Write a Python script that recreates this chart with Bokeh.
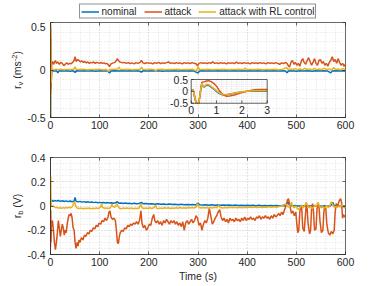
import numpy as np
from bokeh.plotting import figure
from bokeh.models import (Range1d, FixedTicker, LinearAxis, Legend, LegendItem, CustomJSTickFormatter, Spacer, Div)
from bokeh.layouts import column, row
from bokeh.embed import file_html
from bokeh.resources import INLINE

# ---------------- data ----------------
legend_labels = ["nominal", "attack", "attack with RL control"]
ylabel_top_html = "r<sub>v</sub> (ms<sup>-2</sup>)"
ylabel_bottom_html = "r<sub>b</sub> (V)"
xlabel_bottom = "Time (s)"

time_ticks = [0, 100, 200, 300, 400, 500, 600]
time_tick_labels = ["0", "100", "200", "300", "400", "500", "600"]
rv_ticks = [-0.5, 0, 0.5]
rv_tick_labels = ["-0.5", "0", "0.5"]
rb_ticks = [-0.4, -0.2, 0, 0.2, 0.4]
rb_tick_labels = ["-0.4", "-0.2", "0", "0.2", "0.4"]
inset_x_ticks = [0, 1, 2, 3]
inset_x_labels = ["0", "1", "2", "3"]
inset_y_ticks = [-0.5, 0, 0.5]
inset_y_labels = ["-0.5", "0", "0.5"]

# r_v (top panel), (time s, value)
rv_nominal = [(0, 0.03), (0.2, -0.5), (0.4, 0.33), (1.0, 0.0), (1.3, -0.15), (2.5, 0.0), (4, -0.008), (8, -0.011),
              (12, -0.007), (15, -0.03), (17, -0.01), (22, -0.007), (28, -0.011), (34, -0.008), (40, -0.012),
              (46, -0.008), (50, -0.025), (53, -0.009), (60, -0.011), (68, -0.007), (76, -0.01), (84, -0.008),
              (92, -0.012), (100, -0.008), (108, -0.011), (116, -0.008), (120, -0.032), (123, -0.01), (130, -0.008),
              (138, -0.011), (146, -0.007), (154, -0.01), (162, -0.008), (170, -0.011), (178, -0.008), (185, -0.022),
              (188, -0.009), (196, -0.011), (204, -0.007), (212, -0.01), (220, -0.008), (228, -0.012), (236, -0.008),
              (244, -0.01), (252, -0.008), (260, -0.011), (268, -0.007), (276, -0.01), (284, -0.008), (292, -0.011),
              (300, -0.032), (303, -0.01), (310, -0.008), (318, -0.011), (326, -0.007), (334, -0.01), (342, -0.008),
              (350, -0.011), (358, -0.008), (366, -0.01), (374, -0.007), (382, -0.011), (390, -0.008), (398, -0.01),
              (406, -0.008), (414, -0.011), (422, -0.007), (430, -0.01), (438, -0.008), (446, -0.011), (454, -0.008),
              (462, -0.01), (470, -0.008), (478, -0.011), (481, -0.03), (484, -0.01), (492, -0.008), (500, -0.012),
              (508, -0.007), (516, -0.01), (524, -0.008), (532, -0.012), (540, -0.008), (548, -0.01), (556, -0.008),
              (564, -0.011), (570, -0.03), (573, -0.01), (580, -0.008), (588, -0.011), (596, -0.008), (600, -0.01)]

rv_attack = [(0, 0.48), (0.2, -0.25), (0.5, 0.45), (0.8, 0.3), (1.3, -0.2), (2.5, 0.08), (4, 0.09), (6, 0.06),
             (8, 0.08), (10, 0.1), (12, 0.07), (15, 0.085), (18, 0.06), (21, 0.08), (24, 0.07), (27, 0.045),
             (30, 0.06), (33, 0.075), (36, 0.06), (39, 0.07), (42, 0.065), (45, 0.08), (48, 0.1), (50, 0.14),
             (52, 0.09), (55, 0.11), (58, 0.1), (61, 0.085), (64, 0.095), (67, 0.08), (70, 0.09), (73, 0.075),
             (76, 0.085), (79, 0.07), (82, 0.08), (85, 0.075), (88, 0.085), (91, 0.07), (94, 0.08), (97, 0.075),
             (100, 0.07), (103, 0.08), (106, 0.07), (109, 0.075), (112, 0.065), (115, 0.07), (118, 0.05),
             (120, 0.035), (122, 0.06), (125, 0.07), (128, 0.075), (131, 0.08), (134, 0.1), (136, 0.12),
             (138, 0.1), (141, 0.085), (144, 0.08), (147, 0.075), (150, 0.08), (154, 0.07), (158, 0.078),
             (162, 0.068), (166, 0.075), (170, 0.065), (174, 0.078), (178, 0.07), (182, 0.08), (185, 0.1),
             (188, 0.075), (192, 0.068), (196, 0.078), (200, 0.07), (204, 0.075), (208, 0.065), (212, 0.078),
             (216, 0.07), (220, 0.08), (224, 0.068), (228, 0.075), (232, 0.07), (236, 0.078), (240, 0.085),
             (244, 0.07), (248, 0.075), (252, 0.068), (256, 0.078), (260, 0.07), (264, 0.075), (268, 0.065),
             (272, 0.078), (276, 0.07), (280, 0.075), (284, 0.068), (288, 0.078), (292, 0.07), (296, 0.065),
             (299, 0.045), (302, 0.07), (306, 0.078), (310, 0.07), (314, 0.075), (318, 0.068), (322, 0.078),
             (326, 0.07), (330, 0.085), (334, 0.07), (338, 0.075), (342, 0.068), (346, 0.078), (350, 0.07),
             (354, 0.075), (358, 0.065), (362, 0.078), (366, 0.07), (370, 0.075), (374, 0.068), (378, 0.082),
             (382, 0.07), (386, 0.075), (390, 0.068), (394, 0.078), (398, 0.07), (402, 0.075), (406, 0.065),
             (410, 0.078), (414, 0.07), (418, 0.075), (422, 0.068), (426, 0.078), (430, 0.07), (434, 0.075),
             (438, 0.065), (442, 0.078), (446, 0.07), (450, 0.075), (454, 0.068), (458, 0.078), (462, 0.07),
             (466, 0.06), (470, 0.075), (474, 0.068), (478, 0.08), (481, 0.07), (483, 0.05), (486, 0.03),
             (489, 0.08), (492, 0.1), (495, 0.06), (498, 0.08), (501, 0.05), (504, 0.07), (507, 0.04), (510, 0.09),
             (513, 0.12), (516, 0.08), (519, 0.06), (522, 0.1), (525, 0.13), (528, 0.09), (531, 0.05), (534, 0.08),
             (537, 0.12), (540, 0.07), (543, 0.05), (546, 0.1), (549, 0.11), (552, 0.07), (555, 0.09), (558, 0.05),
             (561, 0.07), (564, 0.04), (567, 0.08), (570, 0.1), (573, 0.14), (576, 0.09), (579, 0.11), (582, 0.07),
             (585, 0.12), (588, 0.08), (591, 0.05), (594, 0.07), (597, 0.04), (600, 0.06)]

rv_rl = [(0, 0.5), (0.2, -0.5), (0.4, 0.35), (0.6, 0.3), (1.0, 0.03), (1.3, -0.13), (2.5, 0.02), (4, 0.006),
         (8, 0.003), (12, 0.008), (16, 0.004), (20, 0.007), (26, 0.003), (32, 0.006), (38, 0.004), (44, 0.007),
         (48, 0.01), (50, 0.035), (52, 0.008), (58, 0.004), (66, 0.007), (74, 0.003), (82, 0.006), (90, 0.004),
         (98, 0.007), (106, 0.003), (114, 0.006), (118, -0.015), (120, 0.004), (128, 0.007), (136, 0.008),
         (139, 0.03), (142, 0.006), (150, 0.004), (158, 0.007), (166, 0.003), (174, 0.006), (182, 0.004),
         (185, 0.03), (188, 0.006), (196, 0.004), (204, 0.007), (212, 0.003), (214, -0.012), (217, 0.005),
         (226, 0.007), (234, 0.003), (242, 0.006), (250, 0.004), (258, 0.007), (266, 0.003), (274, 0.006),
         (282, 0.004), (290, 0.007), (297, -0.01), (300, 0.035), (303, 0.006), (312, 0.004), (320, 0.007),
         (328, 0.003), (336, 0.006), (344, 0.004), (352, 0.007), (360, 0.003), (368, 0.006), (376, 0.004),
         (384, 0.007), (392, 0.003), (396, 0.02), (399, 0.005), (408, 0.006), (416, 0.004), (424, 0.007),
         (432, 0.003), (440, 0.006), (448, 0.004), (456, 0.007), (464, 0.003), (472, 0.006), (480, 0.028),
         (483, 0.005), (488, 0.012), (492, 0.003), (497, 0.015), (502, 0.004), (507, 0.01), (512, 0.002),
         (517, 0.018), (522, 0.005), (527, 0.012), (532, 0.002), (537, 0.016), (542, 0.004), (547, 0.01),
         (552, 0.003), (557, 0.02), (562, 0.005), (567, 0.012), (572, 0.003), (576, 0.025), (580, 0.006),
         (585, 0.01), (590, 0.003), (595, 0.015), (600, 0.005)]

# inset: first 3 s of r_v
inset_nominal = [(0, 0.03), (0.08, 0.06), (0.15, -0.3), (0.2, -0.5), (0.3, -0.5), (0.38, 0.1), (0.42, 0.33),
                 (0.47, 0.2), (0.52, 0.18), (0.6, 0.27), (0.7, 0.25), (0.8, 0.17), (0.9, 0.09), (1.0, 0.0),
                 (1.1, -0.08), (1.2, -0.13), (1.3, -0.15), (1.45, -0.13), (1.6, -0.1), (1.8, -0.06), (2.0, -0.03),
                 (2.2, 0.0), (2.5, 0.01), (3.0, 0.01)]
inset_attack = [(0, 0.03), (0.08, 0.06), (0.15, -0.3), (0.2, -0.5), (0.3, -0.5), (0.38, 0.1), (0.42, 0.38),
                (0.5, 0.4), (0.6, 0.44), (0.7, 0.45), (0.8, 0.4), (0.9, 0.33), (1.0, 0.22), (1.1, 0.05),
                (1.2, -0.08), (1.3, -0.17), (1.4, -0.21), (1.5, -0.2), (1.7, -0.15), (1.9, -0.08), (2.1, -0.02),
                (2.3, 0.03), (2.5, 0.07), (2.7, 0.08), (3.0, 0.08)]
inset_rl = [(0, 0.03), (0.08, 0.06), (0.15, -0.3), (0.2, -0.5), (0.3, -0.5), (0.38, 0.1), (0.42, 0.35),
            (0.47, 0.22), (0.52, 0.2), (0.6, 0.3), (0.7, 0.28), (0.8, 0.2), (0.9, 0.12), (1.0, 0.03),
            (1.1, -0.06), (1.2, -0.11), (1.3, -0.13), (1.45, -0.12), (1.6, -0.1), (1.8, -0.06), (2.0, -0.02),
            (2.2, 0.01), (2.5, 0.03), (3.0, 0.03)]

# r_b (bottom panel)
rb_nominal = [(0, 0.04), (2, 0.05), (5, 0.038), (8, 0.045), (12, 0.04), (16, 0.046), (20, 0.038), (24, 0.043),
              (28, 0.037), (32, 0.042), (36, 0.036), (40, 0.041), (44, 0.035), (48, 0.04), (50, 0.07), (52, 0.038),
              (56, 0.034), (60, 0.038), (64, 0.032), (68, 0.036), (72, 0.031), (76, 0.035), (80, 0.03), (84, 0.033),
              (88, 0.028), (92, 0.032), (96, 0.027), (100, 0.03), (104, 0.026), (108, 0.029), (112, 0.025),
              (116, 0.028), (120, 0.024), (124, 0.027), (128, 0.023), (132, 0.026), (136, 0.035), (139, 0.022),
              (144, 0.025), (148, 0.021), (152, 0.024), (156, 0.02), (160, 0.023), (165, 0.019), (170, 0.022),
              (175, 0.018), (180, 0.021), (185, 0.03), (188, 0.018), (194, 0.02), (200, 0.016), (206, 0.019),
              (212, 0.015), (218, 0.018), (224, 0.014), (230, 0.017), (236, 0.013), (242, 0.016), (248, 0.012),
              (254, 0.015), (260, 0.011), (266, 0.014), (272, 0.01), (278, 0.013), (284, 0.01), (290, 0.012),
              (296, 0.009), (300, 0.025), (303, 0.01), (310, 0.008), (316, 0.011), (322, 0.007), (328, 0.01),
              (334, 0.007), (340, 0.009), (346, 0.006), (352, 0.009), (358, 0.006), (364, 0.008), (370, 0.005),
              (376, 0.008), (382, 0.005), (388, 0.007), (394, 0.004), (400, 0.007), (406, 0.004), (412, 0.006),
              (418, 0.003), (424, 0.006), (430, 0.003), (436, 0.005), (442, 0.002), (448, 0.005), (454, 0.002),
              (460, 0.004), (466, 0.001), (472, 0.004), (478, 0.002), (483, 0.035), (486, 0.004), (492, 0.001),
              (498, 0.004), (504, 0.0), (510, 0.003), (516, 0.0), (522, 0.003), (528, 0.0), (534, 0.002),
              (540, -0.001), (546, 0.002), (552, -0.001), (558, 0.002), (564, -0.002), (570, 0.002), (574, 0.03),
              (577, 0.0), (584, 0.002), (590, -0.002), (596, 0.001), (600, 0.0)]

rb_attack = [(0, -0.34), (0.5, -0.03), (1, -0.3), (2, -0.15), (4, -0.12), (6, -0.2), (8, -0.3), (10, -0.36),
             (12, -0.3), (14, -0.22), (16, -0.12), (18, -0.18), (20, -0.25), (22, -0.2), (24, -0.15), (26, -0.18),
             (28, -0.24), (30, -0.2), (32, -0.22), (34, -0.15), (36, -0.1), (38, -0.07), (40, -0.08), (42, -0.06),
             (44, -0.1), (46, -0.18), (48, -0.2), (50, -0.3), (52, -0.35), (54, -0.3), (56, -0.33), (58, -0.28),
             (60, -0.3), (63, -0.26), (66, -0.28), (69, -0.24), (72, -0.25), (75, -0.22), (78, -0.23), (81, -0.2),
             (84, -0.21), (87, -0.18), (90, -0.19), (93, -0.16), (96, -0.17), (99, -0.14), (102, -0.15),
             (105, -0.12), (108, -0.13), (111, -0.1), (114, -0.12), (117, -0.09), (119, -0.05), (121, -0.04),
             (123, -0.09), (126, -0.11), (129, -0.1), (132, -0.12), (134, -0.2), (136, -0.3), (138, -0.31),
             (140, -0.25), (142, -0.22), (145, -0.2), (148, -0.21), (151, -0.18), (154, -0.19), (157, -0.16),
             (160, -0.17), (163, -0.15), (166, -0.16), (169, -0.14), (172, -0.15), (175, -0.13), (178, -0.15),
             (181, -0.12), (184, -0.04), (186, -0.14), (189, -0.18), (192, -0.16), (195, -0.2), (198, -0.18),
             (201, -0.15), (204, -0.16), (207, -0.1), (210, -0.07), (212, -0.12), (215, -0.14), (218, -0.12),
             (221, -0.15), (224, -0.13), (227, -0.16), (230, -0.12), (233, -0.14), (236, -0.11), (239, -0.13),
             (242, -0.15), (245, -0.12), (248, -0.14), (251, -0.12), (254, -0.15), (257, -0.13), (260, -0.16),
             (263, -0.14), (266, -0.17), (269, -0.13), (272, -0.2), (275, -0.14), (278, -0.12), (281, -0.15),
             (284, -0.13), (287, -0.11), (290, -0.14), (293, -0.12), (296, -0.08), (299, -0.1), (302, -0.16),
             (305, -0.14), (308, -0.2), (311, -0.15), (314, -0.12), (317, -0.14), (320, -0.1), (323, -0.02),
             (326, -0.08), (329, -0.15), (332, -0.13), (335, -0.1), (338, -0.08), (341, -0.05), (344, -0.03),
             (347, -0.09), (350, -0.12), (353, -0.1), (356, -0.13), (359, -0.11), (362, -0.14), (365, -0.1),
             (368, -0.12), (371, -0.11), (374, -0.13), (377, -0.1), (380, -0.12), (383, -0.11), (386, -0.13),
             (389, -0.1), (392, -0.12), (395, -0.09), (398, -0.12), (401, -0.1), (404, -0.11), (407, -0.09),
             (410, -0.11), (413, -0.1), (416, -0.12), (419, -0.09), (422, -0.1), (425, -0.08), (428, -0.11),
             (431, -0.09), (434, -0.1), (437, -0.08), (440, -0.1), (443, -0.09), (446, -0.11), (449, -0.08),
             (452, -0.1), (455, -0.07), (458, -0.09), (461, -0.08), (464, -0.06), (467, -0.08), (470, -0.05),
             (473, -0.07), (476, -0.03), (479, 0.0), (482, 0.05), (484, 0.06), (486, 0.02), (488, -0.02),
             (490, -0.06), (493, -0.04), (496, -0.08), (499, -0.05), (501, -0.15), (503, -0.22), (505, -0.2),
             (507, -0.05), (509, 0.0), (511, -0.02), (513, -0.18), (516, -0.21), (518, -0.1), (520, 0.0),
             (522, -0.02), (524, -0.15), (527, -0.23), (529, -0.2), (531, -0.02), (533, 0.02), (535, -0.05),
             (537, -0.2), (540, -0.19), (542, -0.03), (544, 0.02), (546, 0.0), (548, -0.12), (551, -0.22),
             (554, -0.2), (556, -0.05), (558, 0.0), (560, -0.02), (562, -0.15), (565, -0.22), (568, -0.24),
             (571, -0.21), (574, -0.23), (577, -0.2), (579, -0.05), (581, 0.02), (584, 0.0), (587, 0.04),
             (590, 0.06), (592, 0.03), (594, -0.1), (596, -0.07), (598, -0.09), (600, -0.08)]

rb_rl = [(0, 0.0), (0.3, 0.25), (1, 0.05), (2, -0.005), (5, 0.0), (8, -0.008), (11, -0.015), (14, -0.01),
         (17, -0.02), (20, -0.014), (23, -0.02), (26, -0.013), (29, -0.018), (32, -0.012), (35, -0.016),
         (38, -0.01), (41, -0.015), (44, -0.008), (47, 0.02), (49, 0.035), (51, 0.0), (54, -0.016), (58, -0.02),
         (62, -0.017), (66, -0.022), (70, -0.018), (74, -0.021), (78, -0.017), (82, -0.022), (86, -0.018),
         (90, -0.021), (94, -0.017), (98, -0.02), (102, -0.01), (104, 0.02), (106, -0.012), (110, -0.019),
         (114, -0.016), (118, -0.021), (122, -0.015), (125, 0.015), (127, -0.005), (131, -0.01), (135, 0.02),
         (137, 0.0), (140, -0.018), (144, -0.022), (148, -0.017), (152, -0.021), (156, -0.016), (160, -0.02),
         (164, -0.017), (168, -0.022), (172, -0.018), (176, -0.021), (180, -0.017), (184, 0.015), (186, -0.015),
         (190, -0.02), (194, -0.016), (198, -0.021), (202, -0.015), (206, -0.02), (210, -0.014), (214, 0.005),
         (216, -0.018), (220, -0.021), (224, -0.016), (228, -0.02), (232, -0.015), (236, -0.019), (240, -0.014),
         (244, -0.02), (248, -0.016), (252, -0.019), (256, -0.014), (260, -0.018), (264, -0.013), (268, -0.019),
         (272, -0.015), (276, -0.018), (280, -0.013), (284, -0.017), (288, -0.012), (292, -0.016), (296, -0.01),
         (299, 0.02), (302, -0.012), (306, -0.016), (310, -0.012), (314, -0.017), (318, -0.013), (322, -0.016),
         (326, -0.012), (330, -0.016), (334, -0.011), (338, -0.015), (342, 0.005), (345, -0.012), (350, -0.016),
         (355, -0.012), (360, -0.015), (365, -0.011), (370, -0.015), (375, -0.011), (380, -0.014), (385, -0.01),
         (390, -0.014), (395, -0.01), (400, -0.013), (405, -0.009), (410, -0.013), (415, -0.009), (420, -0.012),
         (425, -0.008), (430, -0.012), (435, -0.008), (440, -0.011), (445, -0.007), (450, -0.011), (455, -0.007),
         (460, -0.01), (465, -0.005), (470, 0.0), (474, 0.01), (478, 0.015), (481, 0.005), (484, -0.01),
         (487, 0.0), (490, 0.03), (493, -0.005), (496, -0.015), (499, 0.0), (502, -0.02), (505, -0.03),
         (508, -0.01), (511, 0.01), (514, -0.015), (517, 0.0), (520, 0.03), (523, 0.005), (526, -0.015),
         (529, -0.005), (532, -0.02), (535, -0.01), (538, 0.01), (541, -0.005), (544, 0.03), (547, 0.0),
         (550, -0.015), (553, -0.005), (556, -0.02), (559, -0.01), (562, 0.005), (565, -0.015), (568, 0.0),
         (571, 0.035), (574, 0.01), (577, -0.01), (580, -0.005), (583, -0.012), (586, 0.0), (589, -0.01),
         (592, 0.01), (595, -0.005), (598, -0.015), (600, -0.01)]

# ---------------- style ----------------
BLUE, ORANGE, YELLOW = "#0072BD", "#D95319", "#EDB120"
COLORS = [BLUE, ORANGE, YELLOW]
AX = "#262626"
GRID = "#cfcfcf"
FONT = "Liberation Sans"
LW = 1.5

LAB_W = 24                      # width of the y-label column
B_LEFT, B_RIGHT = 26, 28
FRAME_W = 295
FIG_W = B_LEFT + FRAME_W + B_RIGHT
X0_PAGE = LAB_W + B_LEFT        # frame left on the page (50)
XMAX = 600
LEG_H = 22                      # legend strip height
TOP_H = 118                     # top panel: frame 95 + 23 below
BOT_H = 146                     # bottom panel: 17 above + frame 97 + 32 below


def xs(pairs):
    return [p[0] for p in pairs]


def ys(pairs):
    return [p[1] for p in pairs]


def minor_list(lo, hi, step):
    return [round(v, 4) for v in np.arange(lo, hi + step / 2, step)]


def make_fig(height, b_top, b_bottom, ylo, yhi, yticks, ylabels, yminor_step):
    p = figure(width=FIG_W, height=height, x_range=Range1d(0, XMAX), y_range=Range1d(ylo, yhi),
               output_backend="svg", toolbar_location=None,
               min_border_left=B_LEFT, min_border_right=B_RIGHT,
               min_border_top=b_top, min_border_bottom=b_bottom)
    p.background_fill_color = "white"
    p.border_fill_color = "white"
    p.outline_line_color = AX
    p.outline_line_width = 0.7

    xax = p.below[0]
    yax = p.left[0]
    xt = FixedTicker(ticks=time_ticks, minor_ticks=minor_list(0, XMAX, 20))
    yt = FixedTicker(ticks=yticks, minor_ticks=minor_list(ylo, yhi, yminor_step))
    for ax, t, labs, ticks, so in ((xax, xt, time_tick_labels, time_ticks, 3),
                                   (yax, yt, ylabels, yticks, 5)):
        ax.ticker = t
        ax.major_label_overrides = dict(zip(ticks, labs))
        ax.major_label_text_font = FONT
        ax.major_label_text_font_size = "10.5px"
        ax.major_label_text_color = AX
        ax.major_label_standoff = so
        ax.major_tick_in = 3
        ax.major_tick_out = 0
        ax.minor_tick_in = 0
        ax.minor_tick_out = 0
        ax.minor_tick_line_color = None
        ax.axis_line_color = AX
        ax.axis_line_width = 0.7
        ax.major_tick_line_color = AX
        ax.major_tick_line_width = 0.7
    for loc, t in (("above", xt), ("right", yt)):
        a = LinearAxis(ticker=t, formatter=CustomJSTickFormatter(code="return ''"),
                       major_tick_in=3, major_tick_out=0, minor_tick_in=0, minor_tick_out=0,
                       minor_tick_line_color=None, axis_line_color=None, major_label_standoff=0,
                       major_label_text_font_size="0px", major_tick_line_color=AX,
                       major_tick_line_width=0.7)
        p.add_layout(a, loc)
    p.xgrid.ticker = xt
    p.ygrid.ticker = yt
    for g in (p.xgrid[0], p.ygrid[0]):
        g.grid_line_color = GRID
        g.grid_line_dash = "1 2"
        g.grid_line_width = 0.8
        g.minor_grid_line_color = GRID
        g.minor_grid_line_dash = "1 2"
        g.minor_grid_line_width = 0.6
    return p, xax


def label_div(height, center_y, html):
    """Rotated y-axis title with real sub/superscripts, in a fixed-size clipping box."""
    outer = ("position:relative;width:%dpx;height:%dpx;overflow:hidden;margin:0;padding:0"
             % (LAB_W, height))
    inner = ("position:absolute;left:17px;top:%.1fpx;transform:translate(-50%%,-50%%) rotate(-90deg);"
             "white-space:nowrap;font-family:'Liberation Sans';font-size:10.5px;line-height:12px;"
             "color:%s" % (center_y, AX))
    html = (html.replace("<sub>", '<sub style="font-size:7.5px;line-height:0;vertical-align:-2px">')
                .replace("<sup>", '<sup style="font-size:7.5px;line-height:0;vertical-align:4px">'))
    return Div(text='<div style="%s"><div style="%s">%s</div></div>' % (outer, inner, html),
               width=LAB_W, height=height, margin=0, styles={"overflow": "hidden"})


# ---------------- legend strip ----------------
leg_fig = figure(width=FIG_W, height=LEG_H, x_range=Range1d(0, XMAX), y_range=Range1d(5, 6),
                 output_backend="svg", toolbar_location=None, x_axis_type=None, y_axis_type=None,
                 min_border_left=B_LEFT, min_border_right=B_RIGHT, min_border_top=0, min_border_bottom=0)
leg_fig.outline_line_color = None
leg_fig.grid.visible = False
leg_fig.background_fill_color = "white"
leg_fig.border_fill_color = "white"
# same series as the top panel; the y range keeps them out of view so only the legend shows
leg_renderers = [leg_fig.line(xs(s), ys(s), line_color=c, line_width=LW)
                 for s, c in zip((rv_nominal, rv_attack, rv_rl), COLORS)]
legend = Legend(items=[LegendItem(label=lab, renderers=[r]) for lab, r in zip(legend_labels, leg_renderers)],
                orientation="horizontal", location="center",
                label_text_font=FONT, label_text_font_size="10px", label_text_color=AX,
                glyph_width=18, glyph_height=10, label_height=10, label_standoff=3,
                spacing=7, padding=1, margin=0,
                border_line_color=AX, border_line_width=0.7,
                background_fill_color="white", background_fill_alpha=1.0)
leg_fig.add_layout(legend)

# ---------------- top panel ----------------
p1, p1x = make_fig(TOP_H, 0, 23, -0.5, 0.5, rv_ticks, rv_tick_labels, 0.1)
p1.line(xs(rv_nominal), ys(rv_nominal), line_color=BLUE, line_width=LW)
p1.line(xs(rv_attack), ys(rv_attack), line_color=ORANGE, line_width=LW)
p1.line(xs(rv_rl), ys(rv_rl), line_color=YELLOW, line_width=LW)

# inset (first 3 s)
ix0 = (190.7 - X0_PAGE) * XMAX / FRAME_W
ix1 = (266.7 - X0_PAGE) * XMAX / FRAME_W
ins = p1.subplot(x_source=Range1d(0, 3), y_source=Range1d(-0.5, 0.5),
                 x_target=Range1d(ix0, ix1), y_target=Range1d(-0.35, -0.10))
ilo_x, ihi_x, ilo_y, ihi_y = inset_x_ticks[0], inset_x_ticks[-1], inset_y_ticks[0], inset_y_ticks[-1]
ins.quad(left=[ilo_x], right=[ihi_x], bottom=[ilo_y], top=[ihi_y], fill_color="white", line_color=None)
gx = minor_list(ilo_x, ihi_x, 0.2)
gy = minor_list(ilo_y, ihi_y, 0.1)
ins.segment(x0=gx, y0=[ilo_y] * len(gx), x1=gx, y1=[ihi_y] * len(gx),
            line_color=GRID, line_dash="1 1", line_width=0.5)
ins.segment(x0=[ilo_x] * len(gy), y0=gy, x1=[ihi_x] * len(gy), y1=gy,
            line_color=GRID, line_dash="1 1", line_width=0.5)
ins.line(xs(inset_nominal), ys(inset_nominal), line_color=BLUE, line_width=LW)
ins.line(xs(inset_attack), ys(inset_attack), line_color=ORANGE, line_width=LW)
ins.line(xs(inset_rl), ys(inset_rl), line_color=YELLOW, line_width=LW)
ins.quad(left=[ilo_x], right=[ihi_x], bottom=[ilo_y], top=[ihi_y], fill_color=None,
         line_color=AX, line_width=0.7)
tick_dy = 0.12
tick_dx = 0.11
ins.segment(x0=inset_x_ticks, y0=[ilo_y] * 4, x1=inset_x_ticks, y1=[ilo_y + tick_dy] * 4,
            line_color=AX, line_width=0.7)
ins.segment(x0=[ilo_x] * 3, y0=inset_y_ticks, x1=[ilo_x + tick_dx] * 3, y1=inset_y_ticks,
            line_color=AX, line_width=0.7)
ins.text(x=inset_x_ticks, y=[ilo_y] * 4, text=inset_x_labels, text_align="center", text_baseline="top",
         y_offset=3, text_font={"value": FONT}, text_font_size={"value": "10.5px"}, text_color=AX)
ins.text(x=[ilo_x] * 3, y=inset_y_ticks, text=inset_y_labels, text_align="right", text_baseline="middle",
         x_offset=-3, text_font={"value": FONT}, text_font_size={"value": "10.5px"}, text_color=AX)

lab1 = label_div(TOP_H, 95 / 2, ylabel_top_html)

# ---------------- bottom panel ----------------
p2, p2x = make_fig(BOT_H, 17, 32, -0.4, 0.4, rb_ticks, rb_tick_labels, 0.05)
p2.line(xs(rb_nominal), ys(rb_nominal), line_color=BLUE, line_width=LW)
p2.line(xs(rb_attack), ys(rb_attack), line_color=ORANGE, line_width=LW)
p2.line(xs(rb_rl), ys(rb_rl), line_color=YELLOW, line_width=LW)
p2x.axis_label = xlabel_bottom
p2x.axis_label_text_font = FONT
p2x.axis_label_text_font_size = "10.5px"
p2x.axis_label_text_font_style = "normal"
p2x.axis_label_text_color = AX
p2x.axis_label_standoff = 1

lab2 = label_div(BOT_H, 17 + 97 / 2, ylabel_bottom_html)

layout = column(row(Spacer(width=LAB_W, height=LEG_H, margin=0), leg_fig),
                row(lab1, p1),
                row(lab2, p2))
open("out.html", "w").write(file_html(layout, INLINE))
